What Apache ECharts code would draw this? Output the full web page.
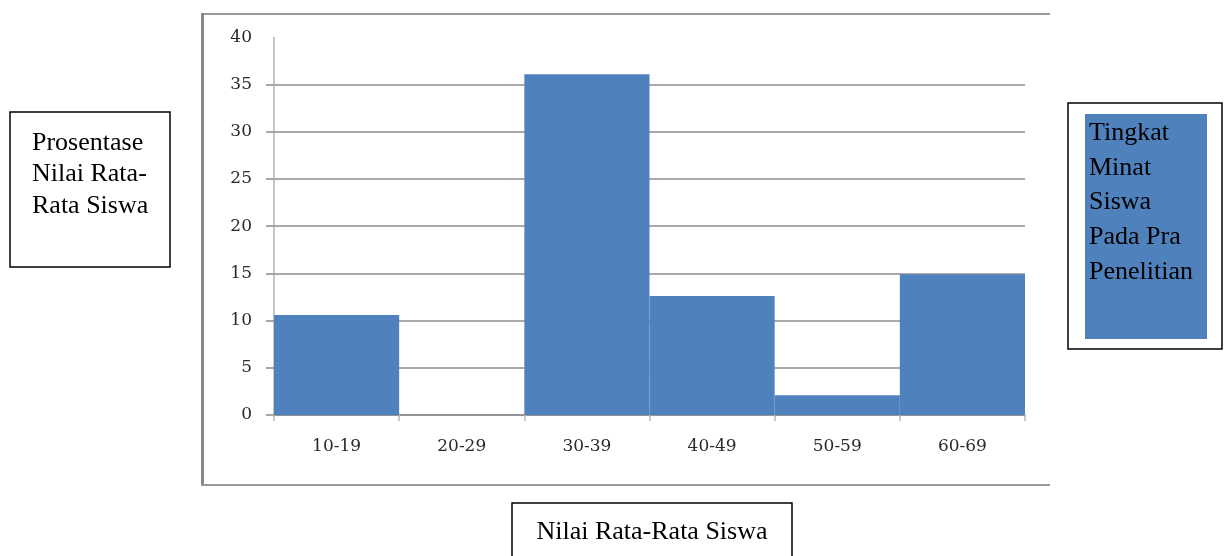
<!DOCTYPE html>
<html>
<head>
<meta charset="utf-8">
<script src="https://cdn.jsdelivr.net/npm/echarts@6/dist/echarts.min.js"></script>
<style>
html,body{margin:0;padding:0;background:#fff;}
#chart{width:1227px;height:556px;}
</style>
</head>
<body>
<div id="chart"></div>
<script>
const categories = ['10-19', '20-29', '30-39', '40-49', '50-59', '60-69'];
const values = [10.6, 0, 36.1, 12.6, 2.1, 14.9];
const yTicks = [0, 5, 10, 15, 20, 25, 30, 35, 40];
const yTitle = 'Prosentase\nNilai Rata-\nRata Siswa';
const xTitle = 'Nilai Rata-Rata Siswa';
const legendText = 'Tingkat\nMinat\nSiswa\nPada Pra\nPenelitian';

const BAR = '#4F81BD';
const serif = '"Liberation Serif", "DejaVu Serif", serif';

const chart = echarts.init(document.getElementById('chart'), null, {renderer: 'canvas'});
chart.setOption({
  animation: false,
  backgroundColor: '#fff',
  grid: {left: 274, right: 202, top: 37.4, bottom: 141, containLabel: false},
  xAxis: {
    type: 'category',
    data: categories,
    axisLine: {show: true, lineStyle: {color: '#8c8c8c', width: 1.5}},
    axisTick: {show: true, length: 6, lineStyle: {color: '#bbbbbb', width: 1.5}},
    axisLabel: {margin: 23, color: '#2a2a2a', fontFamily: '"DejaVu Serif", serif', fontSize: 17}
  },
  yAxis: {
    type: 'value',
    min: 0, max: 40, interval: 5,
    axisLine: {show: true, lineStyle: {color: '#b5b5b5', width: 1.5}},
    axisTick: {show: true, length: 8, customValues: yTicks.slice(0, 8), lineStyle: {color: '#8c8c8c', width: 1.5}},
    axisLabel: {margin: 22, color: '#2a2a2a', fontFamily: '"DejaVu Serif", serif', fontSize: 17, customValues: yTicks},
    splitLine: {show: true, lineStyle: {color: ['#8c8c8c','#8c8c8c','#8c8c8c','#8c8c8c','#8c8c8c','#8c8c8c','#8c8c8c','#8c8c8c','rgba(0,0,0,0)'], width: 1.5}}
  },
  series: [{
    type: 'bar',
    data: values,
    barCategoryGap: '0%',
    itemStyle: {color: BAR},
    z: 3
  }],
  graphic: [
    // outer chart frame
    {type: 'line', shape: {x1: 201, y1: 14, x2: 1050, y2: 14}, style: {stroke: '#999', lineWidth: 2}, silent: true},
    {type: 'line', shape: {x1: 202.5, y1: 13, x2: 202.5, y2: 486}, style: {stroke: '#888', lineWidth: 3}, silent: true},
    {type: 'line', shape: {x1: 201, y1: 485, x2: 1050, y2: 485}, style: {stroke: '#999', lineWidth: 2}, silent: true},
    // y title box
    {type: 'rect', shape: {x: 10, y: 112, width: 160, height: 155}, style: {fill: '#fff', stroke: '#000', lineWidth: 1.5}},
    {type: 'text', x: 32, y: 127, style: {text: yTitle, font: '26px ' + serif, fill: '#000', lineHeight: 31.5, textAlign: 'left', textVerticalAlign: 'top'}},
    // legend-like box
    {type: 'rect', shape: {x: 1068, y: 103, width: 154, height: 246}, style: {fill: '#fff', stroke: '#000', lineWidth: 1.5}},
    {type: 'rect', shape: {x: 1085, y: 114, width: 122, height: 225}, style: {fill: BAR, stroke: null}},
    {type: 'text', x: 1089, y: 116, style: {text: legendText, font: '26px ' + serif, fill: '#000', lineHeight: 34.6, textAlign: 'left', textVerticalAlign: 'top'}},
    // x title box
    {type: 'rect', shape: {x: 512, y: 503, width: 280, height: 60}, style: {fill: '#fff', stroke: '#000', lineWidth: 1.5}},
    {type: 'text', x: 652, y: 532, style: {text: xTitle, font: '26px ' + serif, fill: '#000', textAlign: 'center', textVerticalAlign: 'middle'}}
  ]
});
</script>
</body>
</html>
